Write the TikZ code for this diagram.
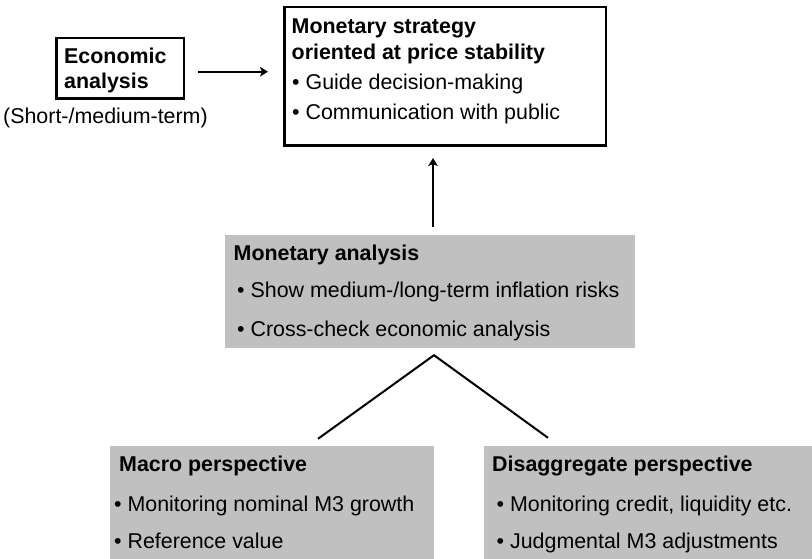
\documentclass[tikz,border=0pt]{standalone}
\usepackage{fontspec}
\setmainfont{Liberation Sans}
\usetikzlibrary{arrows.meta}
\definecolor{boxgray}{RGB}{192,192,192}
\begin{document}
\begin{tikzpicture}[x=1pt,y=-1pt,
  txt/.style={anchor=base west, inner sep=0pt, font=\fontsize{21.4}{25}\selectfont},
  ttl/.style={anchor=base west, inner sep=0pt, font=\fontsize{21.4}{25}\selectfont\bfseries},
  whitebox/.style={draw=black, line width=2.5pt, fill=white, inner sep=0pt},
  graybox/.style={fill=boxgray, draw=none, inner sep=0pt},
  arr/.style={line width=2pt, -{Stealth[length=8pt,width=9.5pt,inset=2pt]}},
  conn/.style={line width=2pt, line join=miter}]
\useasboundingbox (0,0) rectangle (812,559);

% boxes
\node[whitebox, minimum width=127.5pt, minimum height=60.5pt] (econ) at (120,68.5) {};
\node[whitebox, minimum width=321.5pt, minimum height=138.5pt] (strat) at (445,76.5) {};
\node[graybox, minimum width=410pt, minimum height=113pt] (ma) at (430,291.5) {};
\node[graybox, minimum width=324pt, minimum height=116pt] (macro) at (272,504) {};
\node[graybox, minimum width=331pt, minimum height=116pt] (dis) at (649.5,504) {};

% economic analysis
\node[ttl] (econ1) at (64,63.3) {Economic};
\node[ttl] (econ2) at (64,88.3) {analysis};
\node[txt] (short) at (3,123.3) {(Short-/medium-term)};

% strategy
\node[ttl] (strat1) at (291.5,33.3) {Monetary strategy};
\node[ttl] (strat2) at (291.5,59.3) {oriented at price stability};
\node[txt] (strat3) at (292,89.3) {• Guide decision-making};
\node[txt] (strat4) at (292,120) {• Communication with public};

% monetary analysis
\node[ttl] (ma1) at (233.5,260) {Monetary analysis};
\node[txt] (ma2) at (237,297.7) {• Show medium-/long-term inflation risks};
\node[txt] (ma3) at (237,336.7) {• Cross-check economic analysis};

% macro
\node[ttl] (macro1) at (119,471.7) {Macro perspective};
\node[txt] (macro2) at (114,511.7) {• Monitoring nominal M3 growth};
\node[txt] (macro3) at (114,548.3) {• Reference value};

% disaggregate
\node[ttl] (dis1) at (492,471.7) {Disaggregate perspective};
\node[txt] (dis2) at (496.5,511.7) {• Monitoring credit, liquidity etc.};
\node[txt] (dis3) at (496.5,548.3) {• Judgmental M3 adjustments};

% arrows
\draw[arr] ([xshift=13pt,yshift=-3.2pt]econ.east) -- ([xshift=-15pt,yshift=-3.2pt]econ.east -| strat.west);
\draw[arr] ([xshift=3pt,yshift=8pt]ma.north) -- ([xshift=3pt,yshift=-11pt]ma.north |- strat.south);

% tree connectors
\coordinate (apex) at ([xshift=4pt,yshift=-7pt]ma.south);
\coordinate (lend) at ([xshift=46pt,yshift=7pt]macro.north);
\coordinate (rend) at ([xshift=-101.5pt,yshift=8pt]dis.north);
\draw[conn] (lend) -- (apex) -- (rend);
\end{tikzpicture}
\end{document}
